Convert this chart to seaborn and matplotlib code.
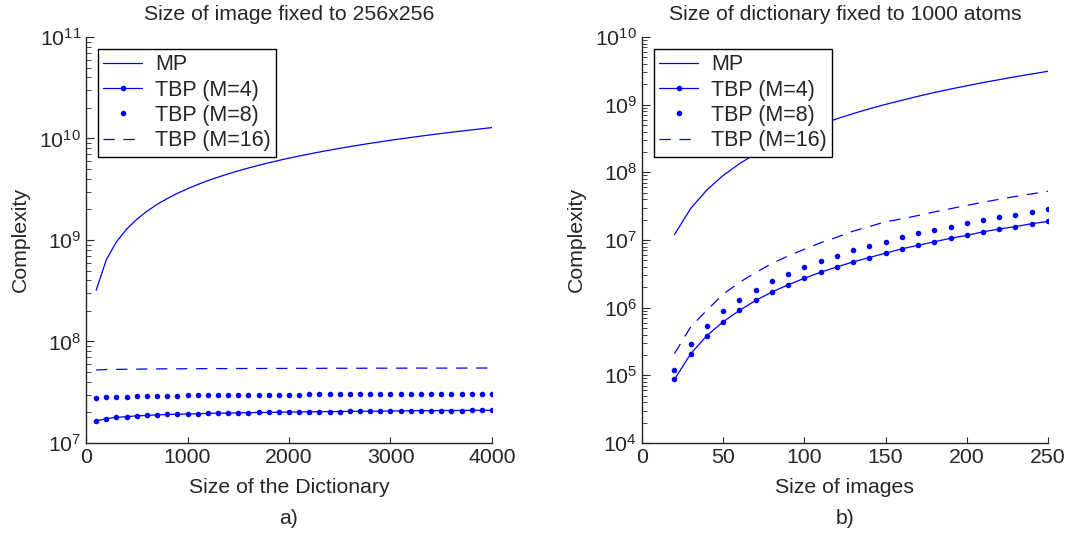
import numpy as np
import pandas as pd
import seaborn as sns
import matplotlib.pyplot as plt

# Left panel: image fixed to 256x256, dictionary size varies
dict_size = list(range(100, 4001, 100))
mp_left = [3.2, 6.4, 9.6, 12.8, 16.0, 19.2, 22.4, 25.6, 28.8, 32.0,
           35.2, 38.4, 41.6, 44.8, 48.0, 51.2, 54.4, 57.6, 60.8, 64.0,
           67.2, 70.4, 73.6, 76.8, 80.0, 83.2, 86.4, 89.6, 92.8, 96.0,
           99.2, 102.4, 105.6, 108.8, 112.0, 115.2, 118.4, 121.6, 124.8, 128.0]  # x1e8
tbp4_left = [1.65, 1.74, 1.79, 1.82, 1.85, 1.87, 1.89, 1.91, 1.92, 1.93,
             1.94, 1.96, 1.97, 1.97, 1.98, 1.99, 2.00, 2.00, 2.01, 2.02,
             2.02, 2.03, 2.03, 2.04, 2.04, 2.05, 2.05, 2.06, 2.06, 2.07,
             2.07, 2.08, 2.08, 2.08, 2.09, 2.09, 2.09, 2.10, 2.10, 2.10]  # x1e7
tbp8_left = [2.76, 2.82, 2.85, 2.87, 2.89, 2.90, 2.91, 2.93, 2.93, 2.94,
             2.95, 2.96, 2.96, 2.97, 2.98, 2.98, 2.99, 2.99, 2.99, 3.00,
             3.00, 3.01, 3.01, 3.01, 3.02, 3.02, 3.02, 3.03, 3.03, 3.03,
             3.03, 3.04, 3.04, 3.04, 3.04, 3.04, 3.05, 3.05, 3.05, 3.05]  # x1e7
tbp16_left = [5.24, 5.29, 5.31, 5.33, 5.34, 5.36, 5.37, 5.38, 5.38, 5.39,
              5.40, 5.40, 5.41, 5.41, 5.42, 5.42, 5.42, 5.43, 5.43, 5.43,
              5.44, 5.44, 5.44, 5.45, 5.45, 5.45, 5.45, 5.46, 5.46, 5.46,
              5.46, 5.47, 5.47, 5.47, 5.47, 5.47, 5.47, 5.48, 5.48, 5.48]  # x1e7

# Right panel: dictionary fixed to 1000 atoms, image size varies
img_size = list(range(20, 251, 10))
mp_right = [1.2e7, 2.93e7, 5.51e7, 9.0e7, 1.34e8, 1.88e8, 2.53e8, 3.29e8,
            4.14e8, 5.1e8, 6.18e8, 7.37e8, 8.68e8, 1.01e9, 1.16e9, 1.33e9,
            1.51e9, 1.70e9, 1.90e9, 2.12e9, 2.34e9, 2.59e9, 2.84e9, 3.11e9]
tbp4_right = [8.7e4, 2.08e5, 3.87e5, 6.2e5, 9.1e5, 1.28e6, 1.70e6, 2.18e6,
              2.72e6, 3.34e6, 4.0e6, 4.74e6, 5.5e6, 6.4e6, 7.4e6, 8.35e6,
              9.4e6, 1.06e7, 1.17e7, 1.32e7, 1.45e7, 1.58e7, 1.74e7, 1.88e7]
tbp8_right = [1.19e5, 2.88e5, 5.4e5, 8.8e5, 1.32e6, 1.85e6, 2.46e6, 3.18e6,
              4.0e6, 4.9e6, 5.9e6, 7.0e6, 8.2e6, 9.5e6, 1.09e7, 1.25e7,
              1.42e7, 1.58e7, 1.78e7, 1.97e7, 2.18e7, 2.38e7, 2.63e7, 2.9e7]
tbp16_right = [2.1e5, 5.2e5, 9.2e5, 1.58e6, 2.36e6, 3.3e6, 4.5e6, 5.8e6,
               7.3e6, 9.1e6, 1.1e7, 1.35e7, 1.58e7, 1.86e7, 2.05e7, 2.3e7,
               2.6e7, 2.9e7, 3.25e7, 3.6e7, 4.0e7, 4.4e7, 4.8e7, 5.25e7]

sns.set_style("ticks")
plt.rcParams["font.family"] = ["Liberation Sans", "DejaVu Sans"]
plt.rcParams["mathtext.fontset"] = "custom"
plt.rcParams["mathtext.rm"] = "Liberation Sans"
plt.rcParams["font.size"] = 15.3
plt.rcParams["xtick.direction"] = "in"
plt.rcParams["ytick.direction"] = "in"
plt.rcParams["xtick.major.size"] = 4.5
plt.rcParams["ytick.major.size"] = 6
plt.rcParams["ytick.minor.size"] = 3.5
plt.rcParams["axes.linewidth"] = 1.0

blue = "#0000ff"
fig = plt.figure(figsize=(10.7, 5.36), dpi=100)
ax1 = fig.add_axes([0.0804, 0.1735, 0.3794, 0.7575])
ax2 = fig.add_axes([0.6, 0.1735, 0.3794, 0.7575])


def draw(ax, x, mp, t4, t8, t16):
    sns.lineplot(x=x, y=mp, ax=ax, color=blue, lw=0.9, label="MP")
    sns.lineplot(x=x, y=t4, ax=ax, color=blue, lw=0.9, marker="o", markersize=4,
                 markeredgewidth=0, label="TBP (M=4)")
    sns.lineplot(x=x, y=t8, ax=ax, color=blue, ls="none", marker="o", markersize=4,
                 markeredgewidth=0, label="TBP (M=8)")
    sns.lineplot(x=x, y=t16, ax=ax, color=blue, lw=0.9, dashes=(9, 7), label="TBP (M=16)")
    ax.set_yscale("log")
    sns.despine(ax=ax)
    ax.set_ylabel("Complexity", labelpad=7)
    leg = ax.legend(loc="upper left", frameon=True, fancybox=False, framealpha=1,
                    edgecolor="black", borderpad=0.25, labelspacing=0.2,
                    handlelength=1.8, handletextpad=0.6, borderaxespad=0.55,
                    fontsize=15.5)
    leg.get_frame().set_linewidth(1.0)


draw(ax1, dict_size, np.array(mp_left) * 1e8, np.array(tbp4_left) * 1e7,
     np.array(tbp8_left) * 1e7, np.array(tbp16_left) * 1e7)
ax1.set_xlim(0, 4000)
ax1.set_ylim(1e7, 1e11)
ax1.set_xticks([0, 1000, 2000, 3000, 4000])
ax1.set_title("Size of image fixed to 256x256", fontsize=15.3, pad=12)
ax1.set_xlabel("Size of the Dictionary", labelpad=8)
ax1.text(0.5, -0.185, "a)", transform=ax1.transAxes, ha="center", va="center")

draw(ax2, img_size, mp_right, tbp4_right, tbp8_right, tbp16_right)
ax2.set_xlim(0, 250)
ax2.set_ylim(1e4, 1e10)
ax2.set_xticks([0, 50, 100, 150, 200, 250])
ax2.set_title("Size of dictionary fixed to 1000 atoms", fontsize=15.3, pad=12)
ax2.set_xlabel("Size of images", labelpad=8)
ax2.text(0.5, -0.185, "b)", transform=ax2.transAxes, ha="center", va="center")

fig.savefig("out.png", dpi=100)
